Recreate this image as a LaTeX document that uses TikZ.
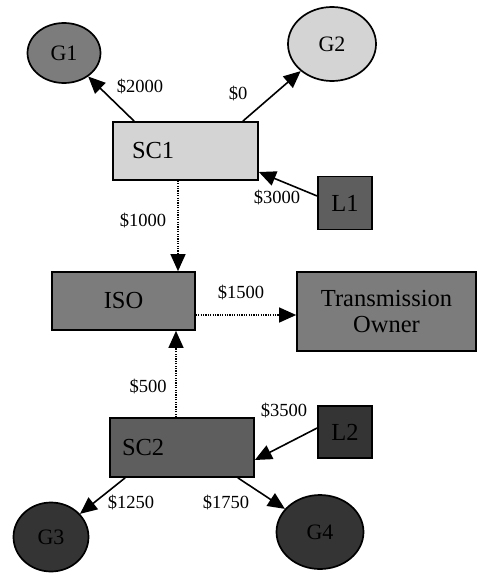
\documentclass[tikz,border=0pt]{standalone}
\usepackage{fontspec}
\setmainfont{Liberation Serif}
\usepackage{tikz}
\usetikzlibrary{arrows.meta, shapes.geometric}
\definecolor{shadelight}{HTML}{D4D4D4}
\definecolor{shademid}{HTML}{7C7C7C}
\definecolor{shadedark}{HTML}{5E5E5E}
\definecolor{shadedeep}{HTML}{343434}

\begin{document}
\begin{tikzpicture}[
    x=1pt, y=-1pt,
    every node/.style={font=\fontsize{18.5}{20}\selectfont},
    party/.style={draw, line width=1.7pt, rectangle, inner sep=0pt, align=center, font=\fontsize{24.5}{25}\selectfont},
    gen/.style={draw, line width=1.7pt, ellipse, inner sep=0pt, font=\fontsize{22}{23}\selectfont},
    cost/.style={inner sep=0pt},
    pay/.style={-{Triangle[length=17pt, width=15pt]}, line width=1.6pt},
    settle/.style={-{Triangle[length=17pt, width=15pt]}, line width=1.3pt, dash pattern=on 1.2pt off 1.2pt}
]
    \useasboundingbox (0,0) rectangle (478,573);

    % generators and loads
    \node[gen, fill=shademid, minimum width=73pt, minimum height=60pt] (g1) at (64,53) {G1};
    \node[gen, fill=shadelight, minimum width=88pt, minimum height=74pt] (g2) at (332,44) {G2};
    \node[gen, fill=shadedeep, minimum width=75pt, minimum height=69pt] (g3) at (51,537) {G3};
    \node[gen, fill=shadedeep, minimum width=87pt, minimum height=74pt] (g4) at (320,532) {G4};
    \node[party, fill=shadedark, minimum width=54pt, minimum height=53pt] (l1) at (345,203) {L1};
    \node[party, fill=shadedeep, minimum width=54pt, minimum height=52pt] (l2) at (345,432) {L2};

    % coordinators
    \node[party, fill=shadelight, minimum width=145pt, minimum height=58pt, text width=107pt, inner xsep=19pt, align=left] (sc1) at (185.5,151) {SC1};
    \node[party, fill=shademid, minimum width=143pt, minimum height=58pt] (iso) at (123.5,301) {ISO};
    \node[party, fill=shademid, minimum width=179pt, minimum height=79pt, font=\fontsize{24.5}{26}\selectfont] (owner) at (386.5,311.5) {Transmission\\Owner};
    \node[party, fill=shadedark, minimum width=144pt, minimum height=59pt, text width=120pt, inner xsep=12pt, align=left] (sc2) at (182,447.5) {SC2};

    % payments
    \draw[pay] ([xshift=22pt]sc1.north west) -- (g1);
    \draw[pay] ([xshift=-16pt]sc1.north east) -- (g2);
    \draw[pay] ([yshift=7pt]l1.west) -- ([yshift=-21pt]sc1.east);
    \draw[settle] ([xshift=-7.5pt]sc1.south) -- ([xshift=-7.5pt]sc1.south |- iso.north);
    \draw[settle] ([yshift=-14pt]iso.east) -- ([yshift=-14pt]iso.east -| owner.west);
    \draw[settle] ([xshift=-6pt]sc2.north) -- ([xshift=-6pt]sc2.north |- iso.south);
    \draw[pay] ([yshift=4pt]l2.west) -- ([yshift=-12.5pt]sc2.east);
    \draw[pay] ([xshift=16pt]sc2.south west) -- (g3);
    \draw[pay] ([xshift=-17pt]sc2.south east) -- (g4);

    \node[cost] (c2000) at (140,87) {\$2000};
    \node[cost] (c0) at (238,94) {\$0};
    \node[cost] (c3000) at (277,198) {\$3000};
    \node[cost] (c1000) at (143,221) {\$1000};
    \node[cost] (c1500) at (241,293) {\$1500};
    \node[cost] (c500) at (148,387) {\$500};
    \node[cost] (c3500) at (284,411) {\$3500};
    \node[cost] (c1250) at (131,503) {\$1250};
    \node[cost] (c1750) at (226,503) {\$1750};
\end{tikzpicture}
\end{document}
